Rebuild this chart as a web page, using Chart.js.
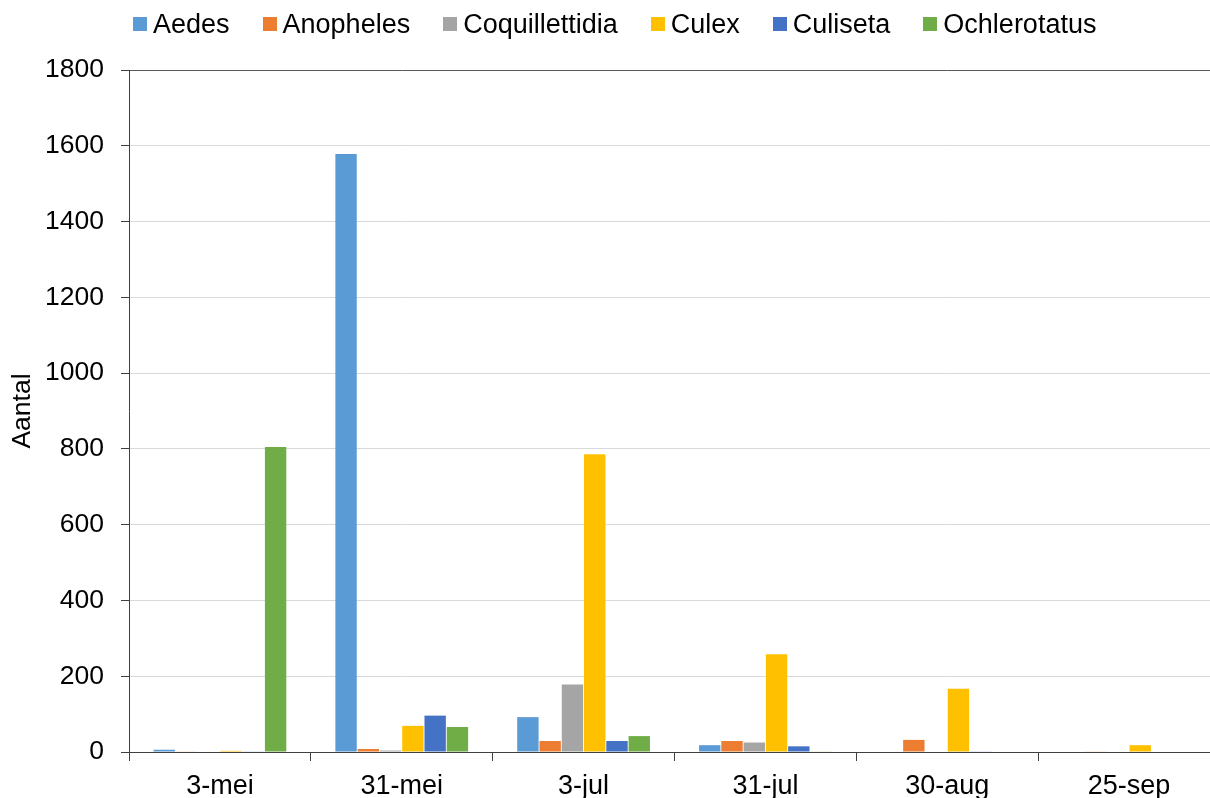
<!DOCTYPE html>
<html>
<head>
<meta charset="utf-8">
<script src="https://cdn.jsdelivr.net/npm/chart.js@4"></script>
<style>
  html, body { margin: 0; padding: 0; overflow: hidden; background: #fff; }
  #wrap { position: relative; width: 1220px; height: 798px; }
  #legend { position: absolute; left: 133px; top: 8px; display: flex;
            font-family: 'Liberation Sans', Arial, sans-serif; font-size: 27px; line-height: 32px; color: #000; white-space: nowrap; }
  .item { display: flex; align-items: center; margin-right: 33px; }
  .box { width: 14px; height: 14px; margin-right: 6px; }
</style>
</head>
<body>
<div id="wrap">
  <canvas id="c" width="1220" height="798"></canvas>
  <div id="legend"></div>
</div>
<script>
const categories = ['3-mei', '31-mei', '3-jul', '31-jul', '30-aug', '25-sep'];
const seriesNames = ['Aedes', 'Anopheles', 'Coquillettidia', 'Culex', 'Culiseta', 'Ochlerotatus'];
const seriesColors = ['#5b9bd5', '#ed7d31', '#a5a5a5', '#ffc000', '#4472c4', '#70ad47'];
const aedes = [6, 1578, 92, 18, 0, 0];
const anopheles = [1, 8, 29, 29, 32, 1];
const coquillettidia = [0, 4, 178, 25, 0, 0];
const culex = [3, 69, 786, 258, 167, 18];
const culiseta = [1, 96, 29, 15, 1, 0];
const ochlerotatus = [805, 66, 42, 1, 0, 0];
const seriesValues = [aedes, anopheles, coquillettidia, culex, culiseta, ochlerotatus];
const yTicks = [0, 200, 400, 600, 800, 1000, 1200, 1400, 1600, 1800];
const yTitle = 'Aantal';

const FONT = "'Liberation Sans', Arial, sans-serif";

// HTML legend
const leg = document.getElementById('legend');
seriesNames.forEach((n, i) => {
  const it = document.createElement('div'); it.className = 'item';
  const b = document.createElement('span'); b.className = 'box'; b.style.background = seriesColors[i];
  const t = document.createElement('span'); t.textContent = n;
  it.appendChild(b); it.appendChild(t); leg.appendChild(it);
});

new Chart(document.getElementById('c'), {
  type: 'bar',
  data: {
    labels: categories,
    datasets: seriesNames.map((n, i) => ({
      label: n,
      data: seriesValues[i],
      backgroundColor: seriesColors[i],
      borderWidth: 0,
      categoryPercentage: 0.735,
      barPercentage: 0.96
    }))
  },
  options: {
    responsive: false,
    animation: false,
    layout: { padding: { top: 70, left: 0, right: 0, bottom: 0 } },
    plugins: { legend: { display: false }, tooltip: { enabled: false } },
    scales: {
      x: {
        grid: { display: true, drawOnChartArea: false, drawTicks: true, tickLength: 9, color: '#404040', offset: true },
        border: { display: true, color: '#404040', width: 1 },
        ticks: { font: { family: FONT, size: 27 }, color: '#000', padding: 9, maxRotation: 0 },
        afterFit: s => { s.height = 46; }
      },
      y: {
        min: 0, max: 1800,
        afterBuildTicks: s => { s.ticks = yTicks.map(v => ({ value: v })); },
        grid: {
          color: ctx => (ctx.tick && ctx.tick.value === 1800) ? '#595959' : '#d9d9d9',
          tickColor: '#404040', tickLength: 8, lineWidth: 1
        },
        border: { display: true, color: '#404040', width: 1 },
        ticks: { font: { family: FONT, size: 26.5 }, color: '#000', padding: 17, callback: v => String(v) },
        title: { display: true, text: yTitle, font: { family: FONT, size: 26.5 }, color: '#000', padding: { top: 7, bottom: 0 } },
        afterFit: s => { s.width = 129; }
      }
    }
  }
});
</script>
</body>
</html>
